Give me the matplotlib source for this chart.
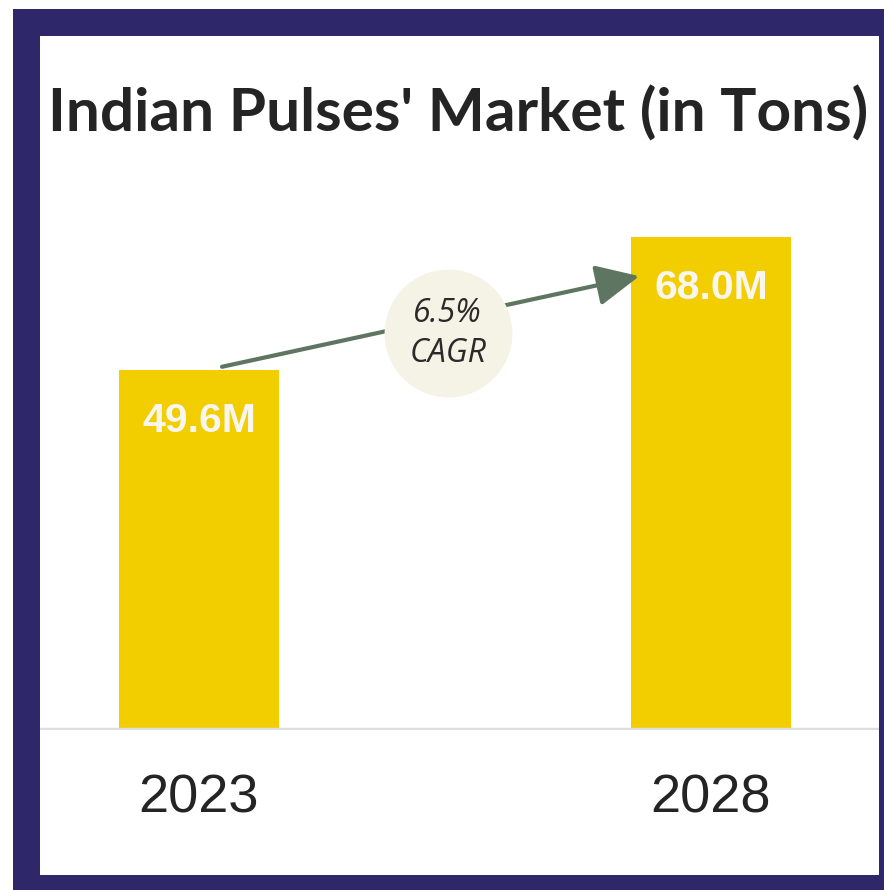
import matplotlib
matplotlib.use("Agg")
import matplotlib.pyplot as plt
from matplotlib.patches import Rectangle

# ---- data ----
years = ["2023", "2028"]
values = [49.6, 68.0]           # million tons
value_labels = ["49.6M", "68.0M"]
cagr_text = "6.5%\nCAGR"
title = "Indian Pulses' Market (in Tons)"

# ---- style ----
NAVY = "#2E276A"
BAR = "#F2CD00"
ARROW = "#5E7561"
CIRCLE = "#F5F3E5"
TXT = "#242424"

W, H, DPI = 884, 890, 100
fig = plt.figure(figsize=(W / DPI, H / DPI), dpi=DPI, facecolor="white")

# frame
fig.patches.append(Rectangle((13 / W, 0), 1, 1 - 9 / H, transform=fig.transFigure,
                             facecolor=NAVY, edgecolor="none", zorder=-10))
fig.patches.append(Rectangle((40 / W, 15 / H), (879 - 40) / W, (875 - 36) / H,
                             transform=fig.transFigure, facecolor="white",
                             edgecolor="none", zorder=-9))

# axes: pixel box x 40..879, y (from top) 36..730
ax_left, ax_right = 40, 879
ax_top, ax_bottom = 36, 730
ax = fig.add_axes([ax_left / W, (H - ax_bottom) / H,
                   (ax_right - ax_left) / W, (ax_bottom - ax_top) / H])
ax.set_facecolor("none")

x = list(range(len(years)))
ax.bar(x, values, width=0.312, color=BAR, zorder=2)

px_per_cat = 512.0
ax.set_xlim(-(199 - ax_left) / px_per_cat, 1 + (ax_right - 711) / px_per_cat)
px_per_val = (ax_bottom - 237) / max(values)
ax.set_ylim(0, (ax_bottom - ax_top) / px_per_val)

for s in ax.spines.values():
    s.set_visible(False)
ax.set_yticks([])
ax.set_xticks(x)
ax.set_xticklabels(years, fontsize=39, color=TXT, family="Liberation Sans")
ax.tick_params(axis="x", length=0, pad=31)

# baseline
ax.axhline(0, color="#DEDEDE", lw=3.2, zorder=3)

# value labels inside bars
for xi, v, lab in zip(x, values, value_labels):
    ax.annotate(lab, (xi, v), xytext=(0, -51), textcoords="offset pixels",
                ha="center", va="center", fontsize=29.5, fontweight="bold",
                color="#F8F6EE", family="Liberation Sans", zorder=4)

# CAGR arrow
start = (x[0] + 0.045, values[0] + 0.5)
end = (x[1] - 0.14, values[1] - 5.4)
ax.annotate("", xy=end, xytext=start,
            arrowprops=dict(arrowstyle="-|>,head_length=0.95,head_width=0.45",
                            color=ARROW, lw=3.0, mutation_scale=28,
                            shrinkA=0, shrinkB=0), zorder=3)

cx, cy = 0.486, 54.7
ax.plot([cx], [cy], marker="o", markersize=92, color=CIRCLE,
        markeredgewidth=0, zorder=5, clip_on=False)
ax.text(cx, cy, cagr_text, ha="center", va="center", fontsize=23,
        style="italic", color="#2A2A2A", family="Open Sans",
        linespacing=1.25, zorder=6)

# title
fig.text(458 / W, 1 - 132 / H, title, ha="center", va="baseline",
         fontsize=43.5, fontweight="bold", color=TXT, family="Lato")

fig.savefig("out.png", dpi=DPI, facecolor="white")
